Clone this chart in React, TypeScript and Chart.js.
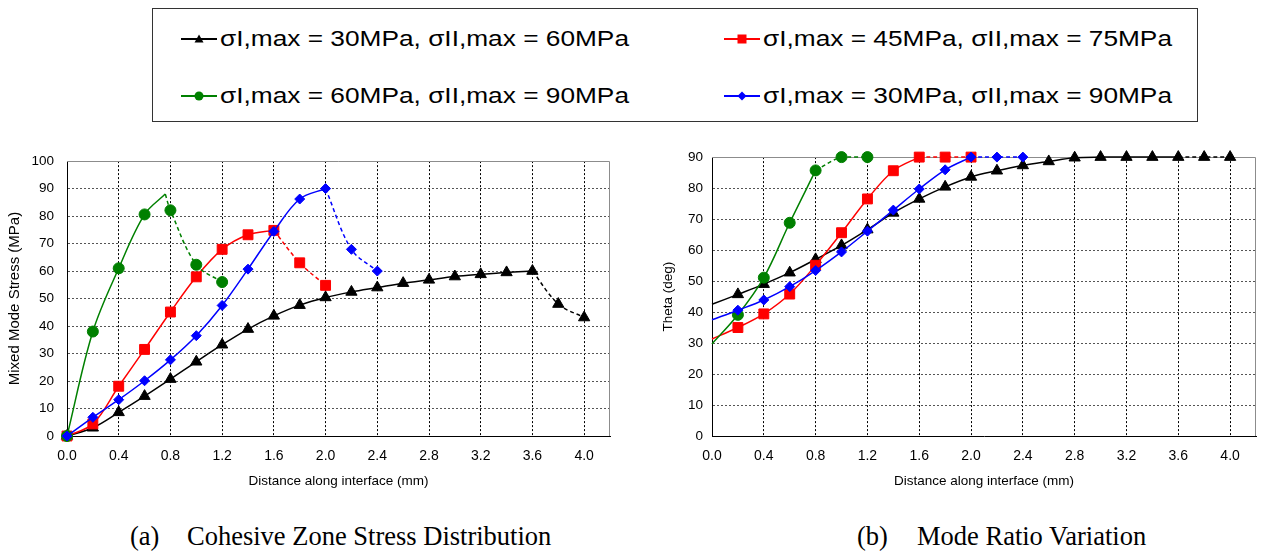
import React, { useEffect, useLayoutEffect, useRef } from "react";
import { Chart, registerables } from "chart.js";

Chart.register(...registerables);

// ---------------- data ----------------
const xTickValues = [0, 0.4, 0.8, 1.2, 1.6, 2.0, 2.4, 2.8, 3.2, 3.6, 4.0];

const legendLabels = [
  "σI,max = 30MPa, σII,max = 60MPa",
  "σI,max = 45MPa, σII,max = 75MPa",
  "σI,max = 60MPa, σII,max = 90MPa",
  "σI,max = 30MPa, σII,max = 90MPa",
];

// (a) Cohesive zone stress distribution (MPa)
const stressBlackX = [0, 0.2, 0.4, 0.6, 0.8, 1.0, 1.2, 1.4, 1.6, 1.8, 2.0, 2.2, 2.4, 2.6, 2.8, 3.0, 3.2, 3.4, 3.6, 3.8, 4.0];
const stressBlackY = [0, 3, 8.6, 14.5, 20.7, 27, 33.2, 38.9, 43.7, 47.6, 50.4, 52.4, 54, 55.6, 56.8, 58, 58.8, 59.5, 60, 48, 43.1];
const stressRedX = [0, 0.2, 0.4, 0.6, 0.8, 1.0, 1.2, 1.4, 1.6, 1.8, 2.0];
const stressRedY = [0, 4.4, 18.1, 31.5, 45.1, 57.9, 67.9, 73.2, 74.8, 63, 54.8];
const stressGreenX = [0, 0.2, 0.4, 0.6, 0.76, 0.8, 1.0, 1.2];
const stressGreenY = [0, 38, 61, 80.6, 88, 82.1, 62.3, 56];
const stressBlueX = [0, 0.2, 0.4, 0.6, 0.8, 1.0, 1.2, 1.4, 1.6, 1.8, 2.0, 2.2, 2.4];
const stressBlueY = [0, 6.8, 13.2, 20.1, 27.7, 36.5, 47.5, 60.7, 74.4, 86.2, 90, 67.9, 60];
const stressPeakX = [3.6, 1.6, 0.76, 2.0]; // dashed after peak
const stressNoMarkerX = [[], [], [0.76], []];

// (b) Mode ratio variation (deg)
const thetaBlackX = [0, 0.2, 0.4, 0.6, 0.8, 1.0, 1.2, 1.4, 1.6, 1.8, 2.0, 2.2, 2.4, 2.6, 2.8, 3.0, 3.2, 3.4, 3.6, 3.8, 4.0];
const thetaBlackY = [42.5, 45.7, 49, 52.7, 57, 61.5, 66.6, 72, 76.5, 80.4, 83.6, 85.6, 87.3, 88.6, 89.8, 90, 90, 90, 90, 90, 90];
const thetaRedX = [0, 0.2, 0.4, 0.6, 0.8, 1.0, 1.2, 1.4, 1.6, 1.8, 2.0];
const thetaRedY = [31.3, 35, 39.4, 45.8, 55.1, 65.6, 76.5, 85.6, 90, 90, 90];
const thetaGreenX = [0, 0.2, 0.4, 0.6, 0.8, 1.0, 1.2];
const thetaGreenY = [29.7, 39.1, 51.1, 68.8, 85.7, 90, 90];
const thetaBlueX = [0, 0.2, 0.4, 0.6, 0.8, 1.0, 1.2, 1.4, 1.6, 1.8, 2.0, 2.2, 2.4];
const thetaBlueY = [37.5, 40.6, 43.9, 48.2, 53.4, 59.4, 66.1, 72.9, 79.7, 85.9, 90, 90, 90];
const thetaPeakX = [3.6, 1.6, 0.8, 2.0];
const thetaNoMarkerX = [[0], [0], [0], [0]];

// ---------------- styles ----------------
const SANS = "'Liberation Sans', Arial, sans-serif";
const SERIF = "'Liberation Serif', 'Times New Roman', serif";

type SeriesStyle = { color: string; pointStyle: string; radius: number };
const seriesStyles: SeriesStyle[] = [
  { color: "#000000", pointStyle: "triangle", radius: 6.5 },
  { color: "#ff0000", pointStyle: "rect", radius: 7 },
  { color: "#008000", pointStyle: "circle", radius: 5.5 },
  { color: "#0000ff", pointStyle: "rectRot", radius: 5 },
];

function buildDatasets(xs: number[][], ys: number[][], peaks: number[], noMarker: number[][]) {
  const sets: any[] = [];
  // dataset index 0 is drawn on top: blue, green, red, black
  [3, 2, 1, 0].forEach((i) => {
    const st = seriesStyles[i];
    const pts = xs[i].map((x, k) => ({ x, y: ys[i][k] }));
    const solid = pts.filter((p) => p.x <= peaks[i] + 1e-9);
    const dashed = pts.filter((p) => p.x >= peaks[i] - 1e-9);
    const radii = (arr: { x: number }[], skipFirst: boolean) =>
      arr.map((p, k) => ((skipFirst && k === 0) || noMarker[i].includes(p.x) ? 0 : st.radius));
    const common = {
      borderColor: st.color,
      backgroundColor: st.color,
      pointBackgroundColor: st.color,
      pointBorderColor: st.color,
      pointBorderWidth: 1,
      pointStyle: st.pointStyle,
      borderWidth: 1.5,
      tension: 0.35,
      clip: false,
      fill: false,
      pointHoverRadius: 0,
    };
    sets.push({ ...common, data: dashed, borderDash: [4, 3], pointRadius: radii(dashed, true) });
    sets.push({ ...common, data: solid, pointRadius: radii(solid, false) });
  });
  return sets;
}

const framePlugin = {
  id: "frame",
  beforeDatasetsDraw(chart: any) {
    const { ctx, chartArea } = chart;
    const { left, right, top, bottom } = chartArea;
    ctx.save();
    ctx.strokeStyle = "#8c8c8c";
    ctx.lineWidth = 1;
    ctx.beginPath();
    ctx.moveTo(left, Math.round(top) + 0.5);
    ctx.lineTo(Math.round(right) - 0.5, Math.round(top) + 0.5);
    ctx.lineTo(Math.round(right) - 0.5, bottom);
    ctx.stroke();
    ctx.restore();
  },
};

type ChartCfg = {
  yMax: number;
  yTitle: string;
  yTitleSize: number;
  yTitlePad: number;
  yAxisWidth: number;
  yTickPad: number;
  padRight: number;
};

function makeOptions(cfg: ChartCfg): any {
  return {
    responsive: false,
    animation: false,
    devicePixelRatio: 1,
    events: [],
    layout: { padding: { top: 16, right: cfg.padRight, left: 0, bottom: 0 } },
    plugins: { legend: { display: false }, tooltip: { enabled: false } },
    scales: {
      x: {
        type: "linear",
        min: 0,
        max: 4.2,
        afterBuildTicks: (s: any) => {
          s.ticks = xTickValues.map((v) => ({ value: v }));
        },
        afterFit: (s: any) => {
          s.height = 64;
        },
        ticks: {
          autoSkip: false,
          maxRotation: 0,
          color: "#000",
          padding: 12,
          font: { family: SANS, size: 14 },
          callback: (v: any) => Number(v).toFixed(1),
        },
        grid: { drawTicks: false, color: "#000", lineWidth: 1 },
        border: { display: true, color: "#000", width: 1, dash: [2, 2] },
        title: {
          display: true,
          text: "Distance along interface (mm)",
          color: "#000",
          font: { family: SANS, size: 13.5 },
          padding: { top: 0, bottom: 11 },
        },
      },
      y: {
        type: "linear",
        min: 0,
        max: cfg.yMax,
        afterFit: (s: any) => {
          s.width = cfg.yAxisWidth;
        },
        ticks: {
          stepSize: 10,
          color: "#000",
          padding: cfg.yTickPad,
          font: { family: SANS, size: 13.5 },
        },
        grid: {
          drawTicks: false,
          lineWidth: 1,
          color: (c: any) => (c.tick && c.tick.value === cfg.yMax ? "rgba(0,0,0,0)" : "#555"),
        },
        border: { display: true, color: "#000", width: 1, dash: [2, 2] },
        title: {
          display: true,
          text: cfg.yTitle,
          color: "#000",
          font: { family: SANS, size: cfg.yTitleSize },
          padding: { top: cfg.yTitlePad, bottom: 0 },
        },
      },
    },
  };
}

function LineChart(props: {
  left: number;
  width: number;
  xs: number[][];
  ys: number[][];
  peaks: number[];
  noMarker: number[][];
  cfg: ChartCfg;
}) {
  const ref = useRef<HTMLCanvasElement>(null);
  useEffect(() => {
    if (!ref.current) return;
    const chart = new Chart(ref.current, {
      type: "line",
      data: { datasets: buildDatasets(props.xs, props.ys, props.peaks, props.noMarker) },
      options: makeOptions(props.cfg),
      plugins: [framePlugin],
    } as any);
    return () => chart.destroy();
  }, []);
  return (
    <canvas
      ref={ref}
      width={props.width}
      height={360}
      style={{ position: "absolute", left: props.left, top: 140, width: props.width, height: 360 }}
    />
  );
}

const LEGEND_TEXT_WIDTH = 409;

function LegendIcon({ idx }: { idx: number }) {
  const c = seriesStyles[idx].color;
  let marker: any = null;
  if (idx === 0) marker = <polygon points="18,2.5 22.5,10.5 13.5,10.5" fill={c} />;
  if (idx === 1) marker = <rect x={13.5} y={2.5} width={9} height={9} fill={c} />;
  if (idx === 2) marker = <circle cx={18} cy={7} r={4.5} fill={c} />;
  if (idx === 3) marker = <polygon points="18,2.5 22.5,7 18,11.5 13.5,7" fill={c} />;
  return (
    <svg width={36} height={14} style={{ display: "block" }}>
      <line x1={0} y1={7} x2={36} y2={7} stroke={c} strokeWidth={2} />
      {marker}
    </svg>
  );
}

function LegendItem({ idx, x, y }: { idx: number; x: number; y: number }) {
  const ref = useRef<HTMLSpanElement>(null);
  useLayoutEffect(() => {
    const el = ref.current;
    if (!el) return;
    el.style.transform = "none";
    const w = el.getBoundingClientRect().width;
    if (w > 0) el.style.transform = `scaleX(${LEGEND_TEXT_WIDTH / w})`;
  }, []);
  return (
    <>
      <div style={{ position: "absolute", left: x, top: y - 7 }}>
        <LegendIcon idx={idx} />
      </div>
      <span
        ref={ref}
        style={{
          position: "absolute",
          left: x + 39,
          top: y - 11,
          fontFamily: SANS,
          fontSize: 22,
          lineHeight: "22px",
          whiteSpace: "nowrap",
          color: "#000",
          display: "inline-block",
          transformOrigin: "0 50%",
        }}
      >
        {legendLabels[idx]}
      </span>
    </>
  );
}

export default function App() {
  const captionStyle: any = {
    position: "absolute",
    top: 523,
    fontFamily: SERIF,
    fontSize: 26.5,
    lineHeight: "26.5px",
    whiteSpace: "nowrap",
    color: "#000",
  };
  return (
    <div style={{ position: "absolute", left: 0, top: 0, width: 1264, height: 554, background: "#fff", overflow: "hidden" }}>
      <div
        style={{
          position: "absolute",
          left: 152,
          top: 8,
          width: 1046,
          height: 114,
          border: "1px solid #333",
          boxSizing: "border-box",
        }}
      />
      <LegendItem idx={0} x={181} y={39} />
      <LegendItem idx={1} x={724} y={39} />
      <LegendItem idx={2} x={181} y={96} />
      <LegendItem idx={3} x={724} y={96} />

      <LineChart
        left={0}
        width={625}
        xs={[stressBlackX, stressRedX, stressGreenX, stressBlueX]}
        ys={[stressBlackY, stressRedY, stressGreenY, stressBlueY]}
        peaks={stressPeakX}
        noMarker={stressNoMarkerX}
        cfg={{ yMax: 100, yTitle: "Mixed Mode Stress (MPa)", yTitleSize: 15, yTitlePad: 6, yAxisWidth: 67, yTickPad: 13, padRight: 15 }}
      />
      <LineChart
        left={640}
        width={624}
        xs={[thetaBlackX, thetaRedX, thetaGreenX, thetaBlueX]}
        ys={[thetaBlackY, thetaRedY, thetaGreenY, thetaBlueY]}
        peaks={thetaPeakX}
        noMarker={thetaNoMarkerX}
        cfg={{ yMax: 90, yTitle: "Theta (deg)", yTitleSize: 13.5, yTitlePad: 20, yAxisWidth: 72, yTickPad: 9, padRight: 1 }}
      />

      <span style={{ ...captionStyle, left: 130 }}>(a)</span>
      <span style={{ ...captionStyle, left: 187 }}>Cohesive Zone Stress Distribution</span>
      <span style={{ ...captionStyle, left: 857 }}>(b)</span>
      <span style={{ ...captionStyle, left: 917 }}>Mode Ratio Variation</span>
    </div>
  );
}
